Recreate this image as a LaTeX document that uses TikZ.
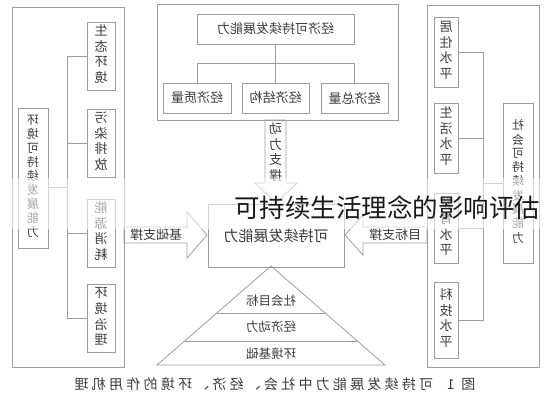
\documentclass[tikz,border=0pt]{standalone}
\usepackage{graphicx}
\usepackage{fontspec}
\setmainfont{Noto Sans CJK SC}
\newfontfamily\capfont{Noto Sans CJK SC}[LetterSpace=23]
\usetikzlibrary{calc}
\definecolor{linegray}{HTML}{9C9C9C}
\definecolor{txtgray}{HTML}{3C3C3C}
\newcommand{\flip}[1]{\reflectbox{#1}}
\newcommand{\vflip}[1]{\reflectbox{\begin{tabular}{@{}c@{}}#1\end{tabular}}}

\begin{document}
\begin{tikzpicture}[x=1pt,y=-1pt,
    box/.style={draw=linegray,line width=0.8pt,inner sep=0pt,text=txtgray},
    link/.style={draw=linegray,line width=0.8pt},
    small/.style={box,font=\fontsize{13}{15.7}\selectfont},
    tall/.style={box,minimum width=30pt,font=\fontsize{12}{13.6}\selectfont},
    label/.style={inner sep=0pt,text=txtgray,font=\fontsize{13}{15.7}\selectfont}]
\useasboundingbox (0,0) rectangle (544,400);

% frames
\draw[link] (12,7) rectangle (124,367);
\draw[link] (157,4) rectangle (398,120);
\draw[link] (427,5) rectangle (539,367);

% environment
\node[tall,minimum height=140pt] (envMain) at (33,178) {\vflip{环\\境\\可\\持\\续\\发\\展\\能\\力}};
\node[small,minimum width=28pt,minimum height=68pt] (env1) at (101,56) {\vflip{生\\态\\环\\境}};
\node[small,minimum width=28pt,minimum height=68pt] (env2) at (101,143) {\vflip{污\\染\\排\\放}};
\node[small,minimum width=28pt,minimum height=68pt] (env3) at (101,233) {\vflip{能\\源\\消\\耗}};
\node[small,minimum width=28pt,minimum height=68pt] (env4) at (101,318) {\vflip{环\\境\\治\\理}};
\coordinate (envBus) at (67,187);
\draw[link] (envMain.east |- envBus) -- (envBus);
\foreach \i in {1,...,4} \draw[link] (env\i.west) -| (envBus);

% economy
\node[small,minimum width=157pt,minimum height=30pt] (ecoMain) at (275.5,29) {\flip{经济可持续发展能力}};
\node[small,minimum width=68pt,minimum height=30pt] (eco1) at (197,98) {\flip{经济质量}};
\node[small,minimum width=67pt,minimum height=30pt] (eco2) at (275.5,98) {\flip{经济结构}};
\node[small,minimum width=67pt,minimum height=30pt] (eco3) at (354.5,98) {\flip{经济总量}};
\coordinate (ecoBus) at (275.5,63);
\draw[link] (ecoMain.south) -- (ecoBus);
\foreach \i in {1,...,3} \draw[link] (eco\i.north) |- (ecoBus);

% society
\node[tall,minimum height=160pt] (socMain) at (518,183) {\vflip{社\\会\\可\\持\\续\\发\\展\\能\\力}};
\node[small,minimum width=24pt,minimum height=70pt] (soc1) at (446,52) {\vflip{居\\住\\水\\平}};
\node[small,minimum width=24pt,minimum height=70pt] (soc2) at (446,138) {\vflip{生\\活\\水\\平}};
\node[small,minimum width=24pt,minimum height=70pt] (soc3) at (446,228) {\vflip{教\\育\\水\\平}};
\node[small,minimum width=24pt,minimum height=76pt] (soc4) at (446,320) {\vflip{科\\技\\水\\平}};
\coordinate (socBus) at (483,183);
\draw[link] (socMain.west) -- (socBus);
\foreach \i in {1,...,4} \draw[link] (soc\i.east) -| (socBus);

% core and block arrows
\node[box,minimum width=136pt,minimum height=63pt,font=\fontsize{15}{15}\selectfont] (core) at (276,235.5) {\flip{可持续发展能力}};
\draw[link] (207,235) -- (187,212) -- (187,227) -- (124,227) -- (124,243) -- (187,243) -- (187,258) -- cycle;
\draw[link] (345,235) -- (363,215) -- (363,227) -- (427,227) -- (427,243) -- (363,243) -- (363,255) -- cycle;
\draw[link] (276,203) -- (255,183) -- (265,183) -- (265,120) -- (286,120) -- (286,183) -- (297,183) -- cycle;
\node[label] (base) at (156,235) {\flip{基础支撑}};
\node[label] (goal) at (395,235) {\flip{目标支撑}};
\node[label] (drive) at (275.5,154) {\vflip{动\\力\\支\\撑}};

% pyramid
\draw[link] (271,266) -- (157,365) -- (385,365) -- cycle;
\draw[link] (217,313) -- (325,313);
\draw[link] (185,341) -- (357,341);
\node[label,font=\fontsize{12.5}{12.5}\selectfont] (top) at (271,301) {\flip{社会目标}};
\node[label,font=\fontsize{12.5}{12.5}\selectfont] (mid) at (271,327) {\flip{经济动力}};
\node[label,font=\fontsize{12.5}{12.5}\selectfont] (bot) at (271,354) {\flip{环境基础}};

% caption
\node[label,font=\capfont\fontsize{14}{14}\selectfont] (cap) at (275,384) {\flip{图 1\quad 可持续发展能力中社会、经济、环境的作用机理}};

% overlay
\fill[white,opacity=0.55] (0,178) rectangle (544,229);
\node[anchor=west,inner sep=0pt,text=black!90,font=\fontsize{25.5}{25.5}\selectfont] (mark) at (234,208) {可持续生活理念的影响评估};
\end{tikzpicture}
\end{document}
